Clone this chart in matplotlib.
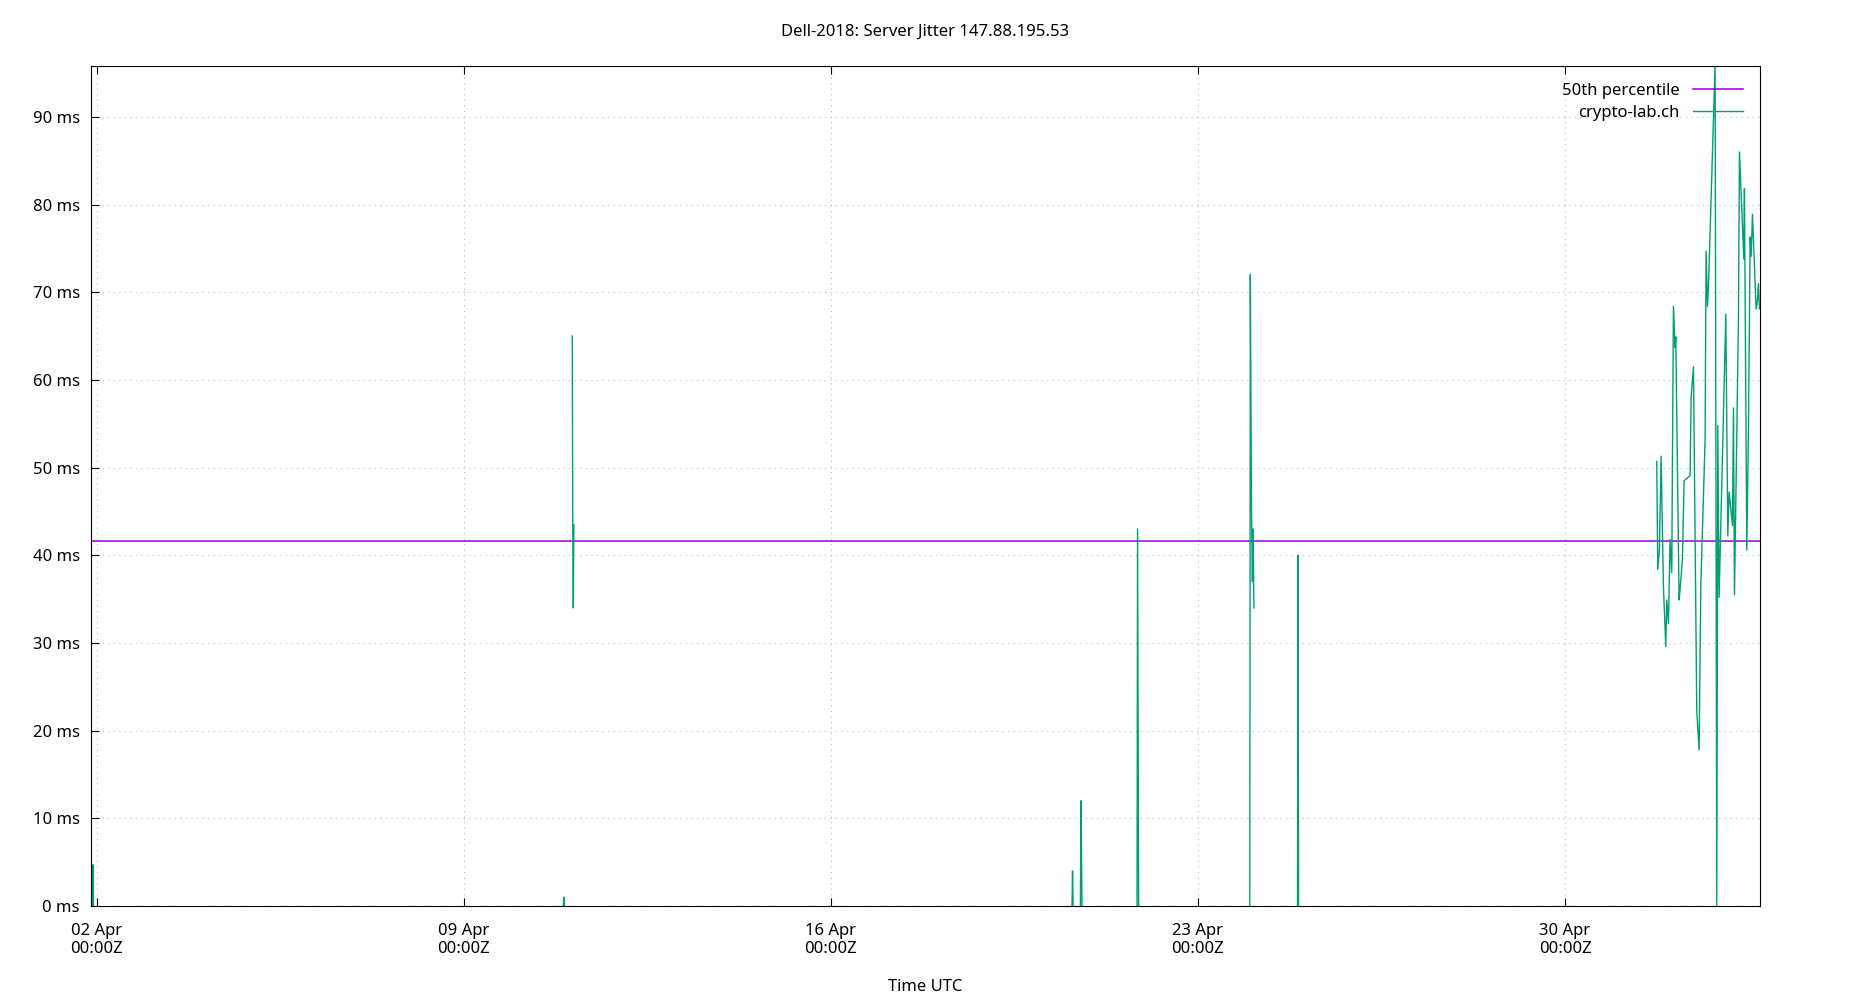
import matplotlib
matplotlib.use("Agg")
import matplotlib.pyplot as plt
import numpy as np
import datetime as dt
import matplotlib.dates as mdates

base = dt.datetime(2018, 4, 2)
nan = np.nan
# days since 02 Apr 00:00Z, NaN separates segments
days = [-0.08, -0.07, -0.06, nan,
        8.90, 8.91, 8.92, nan,
        9.07, 9.08, 9.09, 9.10, nan,
        18.60, 18.61, 18.62, nan,
        18.76, 18.77, 18.78, 18.79, nan,
        19.84, 19.85, 19.87, nan,
        21.99, 22.00, 22.02, 22.04, 22.05, 22.07, nan,
        22.90, 22.91, 22.92, nan,
        29.750, 29.769, 29.801, 29.833, 29.877, 29.922, 29.941, 29.973, 30.004, 30.036,
        30.068, 30.100, 30.113, 30.176, 30.195, 30.240, 30.272, 30.386, 30.405, 30.450,
        30.513, 30.558, 30.590, 30.672, 30.691, 30.717, 30.736, 30.863, 30.895, 30.914,
        30.939, 31.067, 31.105, 31.130, 31.194, 31.213, 31.232, 31.308, 31.327, 31.410,
        31.422, 31.467, 31.499, 31.531, 31.550, 31.575, 31.626, 31.645, 31.670, 31.689, 31.708]
jitter = [0, 4.7, 0, nan,
          0, 1.0, 0, nan,
          65.0, 43.0, 34.0, 43.5, nan,
          0, 4.0, 0, nan,
          0, 12.0, 6.0, 0, nan,
          0, 43.0, 0, nan,
          0, 72.0, 47.0, 37.0, 43.0, 34.0, nan,
          0, 40.0, 0, nan,
          50.7, 38.4, 40.6, 51.3, 36.5, 29.6, 34.9, 32.2, 41.8, 38.0,
          68.4, 63.7, 64.9, 34.9, 36.1, 39.6, 48.5, 49.1, 58.0, 61.5,
          22.2, 17.8, 36.5, 53.2, 74.7, 68.4, 70.6, 96.0, 0.0, 54.8,
          35.2, 67.5, 42.2, 47.2, 43.4, 56.8, 35.5, 67.0, 86.0, 73.8,
          81.8, 40.6, 54.5, 76.3, 74.1, 78.9, 71.0, 68.1, 69.0, 71.0, 68.1]
median_ms = 41.6
tick_days = [0, 7, 14, 21, 28]

plt.rcParams['font.family'] = ['Noto Sans', 'DejaVu Sans']
fig = plt.figure(figsize=(18.5, 10), dpi=100)
ax = fig.add_axes([0.0491, 0.094, 0.902, 0.840])

times = [base + dt.timedelta(days=d) if not np.isnan(d) else None for d in days]
xs = np.array([mdates.date2num(t) if t is not None else np.nan for t in times])
ax.axhline(median_ms, color='#9400d3', lw=1.1, label='50th percentile')
ax.plot(xs, jitter, color='#009e73', lw=1.0, label='crypto-lab.ch')

ax.set_xlim(mdates.date2num(base - dt.timedelta(days=0.11)),
            mdates.date2num(base + dt.timedelta(days=31.71)))
ax.set_ylim(0, 95.8)
ax.set_yticks(range(0, 91, 10))
ax.set_yticklabels([f"{v} ms" for v in range(0, 91, 10)])
tks = [mdates.date2num(base + dt.timedelta(days=d)) for d in tick_days]
ax.set_xticks(tks)
ax.set_xticklabels([(base + dt.timedelta(days=d)).strftime("%d %b\n%H:%MZ") for d in tick_days])
ax.tick_params(direction='in', top=True, right=False, labelsize=12, length=6)
ax.tick_params(axis='x', pad=12)
ax.tick_params(axis='y', pad=8)
ax.grid(True, color='#bbbbbb', ls=(0, (1, 4)), lw=0.8)
ax.set_xlabel("Time UTC", fontsize=12, labelpad=16)
ax.set_title("Dell-2018: Server Jitter 147.88.195.53", fontsize=12, pad=22)
leg = ax.legend(loc='upper right', frameon=False, markerfirst=False, fontsize=12,
                handlelength=3, borderaxespad=0.6, labelspacing=0.35)
fig.savefig("out.png", dpi=100)
